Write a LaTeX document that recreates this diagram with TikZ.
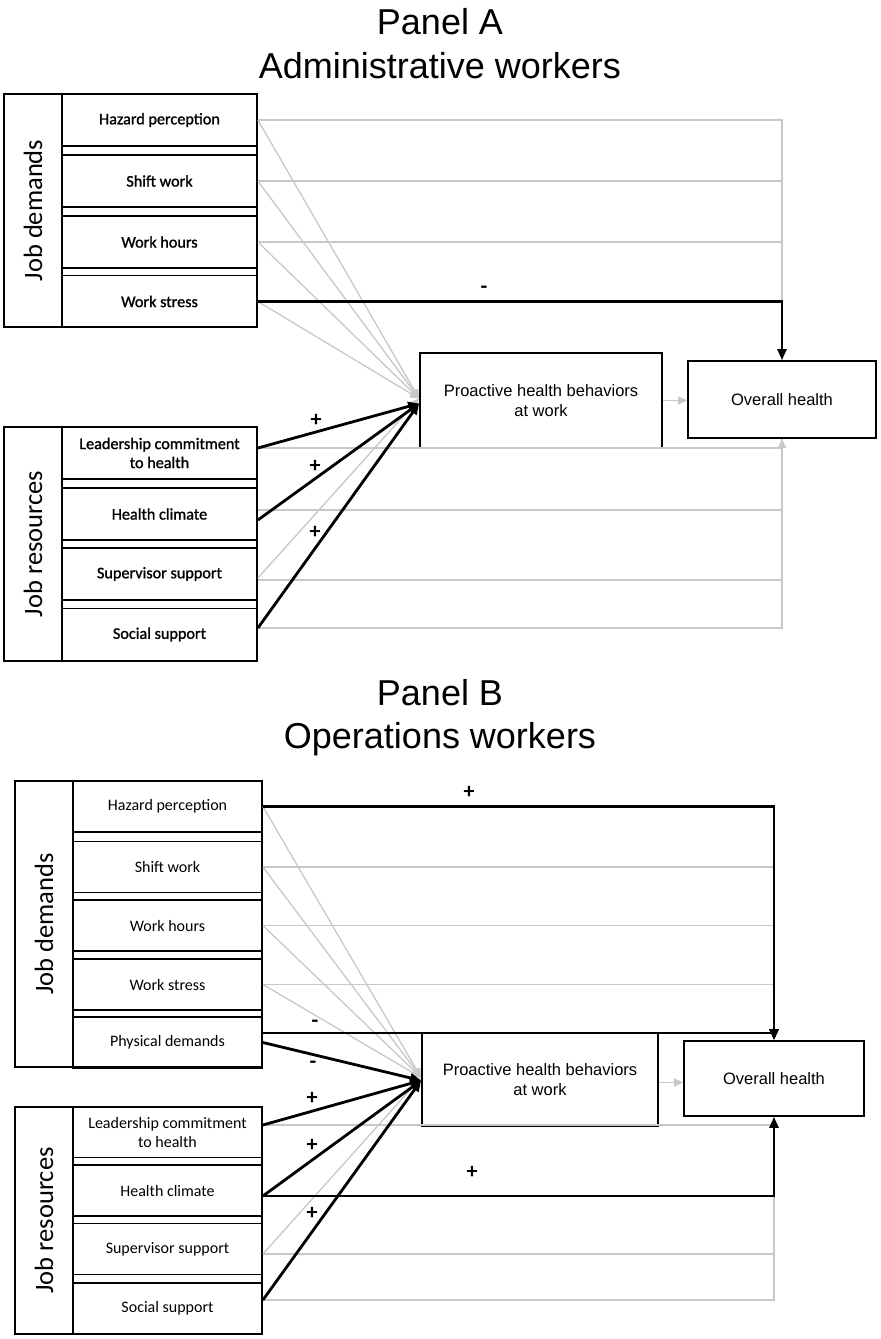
\documentclass[tikz,border=0pt]{standalone}
\usepackage{fontspec}
\setmainfont{Carlito}
\newfontfamily\arialf{Liberation Sans}
\newfontfamily\carlitoheavy[FakeBold=1.2]{Carlito}
\usetikzlibrary{arrows.meta}
\definecolor{lg}{RGB}{200,200,200}
\begin{document}
\begin{tikzpicture}[x=1pt,y=-1pt,
 itm/.style={draw,line width=1.8pt,inner sep=0pt,align=center},
 itmA/.style={itm,minimum width=195pt,minimum height=52pt,font=\carlitoheavy\fontsize{16.2}{19}\selectfont},
 itmB/.style={itm,minimum width=189pt,minimum height=51pt,font=\fontsize{16}{19}\selectfont},
 frame/.style={draw,line width=1.8pt},
 side/.style={rotate=90,inner sep=0pt,font=\fontsize{26.5}{30}\selectfont},
 ttl/.style={font=\arialf\fontsize{36}{40}\selectfont,anchor=base,inner sep=0pt},
 mid/.style={draw,line width=1.8pt,align=center,inner sep=0pt,font=\arialf\fontsize{16.5}{20}\selectfont},
 gl/.style={draw=lg,line width=1.3pt},
 bl/.style={draw=black,line width=2.8pt},
 sgn/.style={inner sep=0pt,font=\fontsize{22}{22}\selectfont\bfseries},
 btip/.style={-{Triangle[length=11pt,width=9pt]}},
 gtip/.style={-{Triangle[length=9pt,width=8pt,fill=lg]}},
]
\useasboundingbox (0,0) rectangle (881,1339);
\fill[white] (0,0) rectangle (881,1339);

% ---------------- Panel A ----------------
\node[ttl] (tA1) at (440,34) {Panel A};
\node[ttl] (tA2) at (440,78) {Administrative workers};

\draw[frame] (4,94) rectangle (257,327);
\draw[frame] (62,94) -- (62,327);
\draw[frame] (4,427) rectangle (257,661);
\draw[frame] (62,427) -- (62,661);

\node[side] (jdA) at (33,210.5) {Job demands};
\node[side] (jrA) at (33,544) {Job resources};

\node[itmA] (hazA) at (159.5,120) {Hazard perception};
\node[itmA] (shiftA) at (159.5,181) {Shift work};
\node[itmA] (hoursA) at (159.5,242) {Work hours};
\node[itmA] (stressA) at (159.5,301.5) {Work stress};

\node[itmA] (leadA) at (159.5,453) {Leadership commitment\\to health};
\node[itmA] (hcA) at (159.5,514) {Health climate};
\node[itmA] (supA) at (159.5,574) {Supervisor support};
\node[itmA] (socA) at (159.5,634.5) {Social support};

\node[mid,minimum width=242pt,minimum height=95pt] (proA) at (541,400.5) {Proactive health behaviors\\at work};
\node[mid,minimum width=188pt,minimum height=77pt] (ovA) at (782,399.5) {Overall health};

% gray paths to overall health
\draw[gl] (hazA.east) -| (ovA.north);
\draw[gl] (shiftA.east) -| (ovA.north);
\draw[gl] (hoursA.east) -| (ovA.north);
\draw[gl] ([yshift=4pt]hcA.east) -| (ovA.south);
\draw[gl] ([yshift=-6pt]supA.east) -| (ovA.south);
\draw[gl] ([yshift=6.5pt]socA.east) -| (ovA.south);
\draw[gl,gtip] ([yshift=5pt]leadA.east) -| (ovA.south);
% gray diagonals
\draw[gl,gtip] (hazA.east) -- ([yshift=2pt]proA.west);
\draw[gl,gtip] (shiftA.east) -- ([yshift=2pt]proA.west);
\draw[gl,gtip] (hoursA.east) -- ([yshift=2pt]proA.west);
\draw[gl,gtip] (stressA.east) -- ([yshift=2pt]proA.west);
\draw[gl,gtip] ([yshift=-4pt]supA.east) -- ([yshift=2pt]proA.west);
\draw[gl,gtip] (proA.east) -- (proA.east -| ovA.west);
% black paths
\draw[bl,btip] (stressA.east) -| (ovA.north);
\draw[bl,btip] ([yshift=5pt]leadA.east) -- ([yshift=-3pt]proA.west);
\draw[bl,btip] ([yshift=-6pt]hcA.east) -- ([yshift=-3pt]proA.west);
\draw[bl,btip] ([yshift=6.5pt]socA.east) -- ([yshift=-3pt]proA.west);

\node[sgn] (mA1) at (484,290) {-};
\node[sgn] (pA1) at (316,420) {+};
\node[sgn] (pA2) at (315,466) {+};
\node[sgn] (pA3) at (315,532) {+};

% ---------------- Panel B ----------------
\node[ttl] (tB1) at (440,705) {Panel B};
\node[ttl] (tB2) at (440,748) {Operations workers};

\draw[frame] (15,781) rectangle (262,1067);
\draw[frame] (73,781) -- (73,1067);
\draw[frame] (15,1107) rectangle (262,1334);
\draw[frame] (73,1107) -- (73,1334);

\node[side] (jdB) at (44,924) {Job demands};
\node[side] (jrB) at (44,1220.5) {Job resources};

\node[itmB] (hazB) at (167.5,806.5) {Hazard perception};
\node[itmB] (shiftB) at (167.5,867) {Shift work};
\node[itmB] (hoursB) at (167.5,925.5) {Work hours};
\node[itmB] (stressB) at (167.5,984.5) {Work stress};
\node[itmB] (physB) at (167.5,1042.5) {Physical demands};

\node[itmB] (leadB) at (167.5,1132) {Leadership commitment\\to health};
\node[itmB] (hcB) at (167.5,1190.5) {Health climate};
\node[itmB] (supB) at (167.5,1249) {Supervisor support};
\node[itmB] (socB) at (167.5,1308.5) {Social support};

\node[mid,minimum width=236pt,minimum height=93pt] (proB) at (540,1079.5) {Proactive health behaviors\\at work};
\node[mid,minimum width=180pt,minimum height=75pt] (ovB) at (774,1078.5) {Overall health};

% gray horizontals
\draw[gl] (shiftB.east) -- (shiftB.east -| ovB.north);
\draw[gl] (hoursB.east) -- (hoursB.east -| ovB.north);
\draw[gl] (stressB.east) -- (stressB.east -| ovB.north);
\draw[gl] ([yshift=7pt]leadB.east) -- ([yshift=7pt]leadB.east -| ovB.south);
\draw[gl] ([yshift=-5pt]supB.east) -| (ovB.south);
\draw[gl] ([yshift=8.5pt]socB.east) -| (ovB.south);
% gray diagonals
\draw[gl,gtip] (hazB.east) -- ([yshift=2pt]proB.west);
\draw[gl,gtip] (shiftB.east) -- ([yshift=2pt]proB.west);
\draw[gl,gtip] (hoursB.east) -- ([yshift=2pt]proB.west);
\draw[gl,gtip] (stressB.east) -- ([yshift=2pt]proB.west);
\draw[gl,gtip] ([yshift=-5pt]supB.east) -- ([yshift=2pt]proB.west);
\draw[gl,gtip] ([yshift=-3pt]proB.east) -- ([yshift=-3pt]proB.east -| ovB.west);
% black paths
\draw[bl,btip] (hazB.east) -| (ovB.north);
\draw[bl,btip] ([yshift=9.5pt]physB.east) -| (ovB.north);
\draw[bl,btip] ([yshift=-5.5pt]hcB.east) -| (ovB.south);
\draw[bl,btip] (physB.east) -- ([yshift=-1pt]proB.west);
\draw[bl,btip] ([yshift=7pt]leadB.east) -- ([yshift=-1pt]proB.west);
\draw[bl,btip] ([yshift=-5.5pt]hcB.east) -- ([yshift=-1pt]proB.west);
\draw[bl,btip] ([yshift=8.5pt]socB.east) -- ([yshift=-1pt]proB.west);

\node[sgn] (pB0) at (469,792) {+};
\node[sgn] (mB1) at (315,1024) {-};
\node[sgn] (mB2) at (313,1065) {-};
\node[sgn] (pB1) at (312,1098) {+};
\node[sgn] (pB2) at (312,1145) {+};
\node[sgn] (pB3) at (312,1213) {+};
\node[sgn] (pB4) at (472,1172) {+};
\end{tikzpicture}
\end{document}
